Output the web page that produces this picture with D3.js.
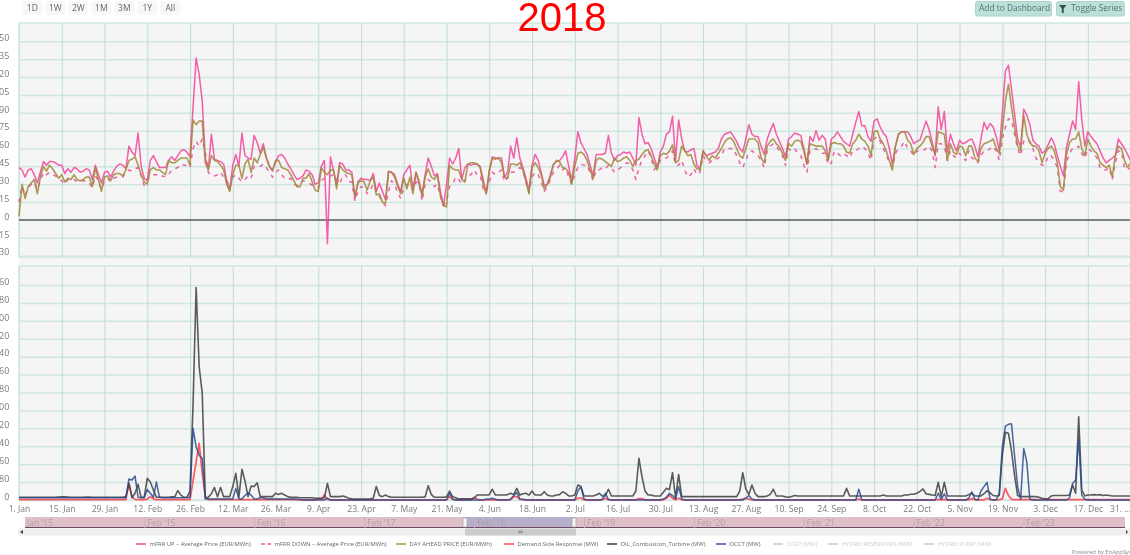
<!DOCTYPE html>
<html><head><meta charset="utf-8">
<script src="https://cdn.jsdelivr.net/npm/d3@7/dist/d3.min.js"></script>
<style>
html,body{margin:0;padding:0;background:#fff;overflow:hidden}
svg{display:block;filter:blur(0.45px);font-family:"Open Sans",sans-serif}
</style></head><body><div id="c"></div>
<script>
// Daily values, 1 Jan 2018 .. 31 Dec 2018
const mfrrUp = [
44,42,36,42,43,38,31,40,49,46, 49,49,48,46,46,39,43,40,44,43,
40,41,43,42,34,46,38,31,40,41, 36,41,45,47,46,43,62,57,54,73,
45,35,33,50,54,49,44,44,44,50, 53,50,54,58,59,57,53,95,136,122,
100,52,43,72,51,50,49,47,33,25, 46,55,45,73,54,52,51,71,65,56,
64,52,45,42,48,54,55,52,47,43, 38,34,35,37,42,41,38,30,31,45,
50,-20,53,41,30,48,47,42,42,40, 18,32,35,34,34,33,39,24,31,24,
17,41,40,38,30,24,38,42,46,26, 40,30,22,38,52,45,37,39,24,12,
30,52,47,52,60,34,44,47,46,47, 47,45,34,22,40,53,52,52,52,36,
40,62,52,69,52,44,35,25,46,55, 50,40,29,30,38,47,49,50,53,58,
45,33,52,74,65,60,55,46,37,55, 55,55,56,71,56,50,54,55,57,56,
57,52,46,86,72,64,65,60,52,44, 57,62,72,74,87,50,84,68,58,57,
59,60,46,43,58,54,55,56,57,60, 68,72,73,74,70,66,60,57,68,80,
72,70,70,62,55,68,75,81,72,66, 60,53,68,70,73,72,71,60,47,70,
66,75,67,71,68,51,68,70,74,70, 66,64,62,72,82,91,79,79,70,66,
83,85,78,73,70,60,47,62,72,74, 74,74,70,64,66,67,75,83,76,66,
54,95,76,91,57,72,64,58,67,64, 65,67,68,62,53,68,82,76,81,78,
70,58,90,125,130,110,89,68,61,93, 88,80,67,64,62,56,58,63,69,64,
54,45,37,61,72,83,76,116,85,62, 74,70,67,64,58,52,48,50,52,54,
68,64,60,55,50];
const mfrrDown = [
15,28,20,27,30,32,26,33,40,38, 40,38,37,34,33,30,34,33,34,32,
32,33,33,31,27,37,33,26,33,35, 32,35,36,36,36,40,42,41,43,44,
37,29,34,36,38,38,36,37,36,38, 42,43,44,47,46,46,44,60,66,62,
68,57,40,37,37,38,40,36,33,27, 36,38,35,32,34,37,35,45,46,45,
47,44,40,36,40,42,38,35,34,35, 30,29,30,33,32,31,29,28,27,33,
35,36,37,38,35,30,37,38,32,32, 16,24,28,27,22,25,30,24,20,15,
12,24,33,30,23,18,27,30,30,25, 32,30,16,30,34,32,28,30,20,12,
16,28,30,36,34,30,33,37,38,42, 38,38,26,24,32,40,38,40,42,32,
36,40,40,42,44,42,32,23,36,40, 38,32,24,28,34,40,42,46,42,44,
36,30,38,44,47,46,46,40,33,42, 42,44,43,46,44,40,42,44,46,48,
47,42,34,44,50,54,58,52,42,46, 50,52,52,54,58,46,46,50,42,36,
38,43,38,40,54,50,48,50,50,52, 54,60,60,60,60,54,48,44,50,57,
58,56,54,50,44,58,62,64,62,58, 54,46,60,58,60,56,54,46,40,58,
58,60,58,56,56,46,48,58,56,54, 56,54,52,58,58,60,62,60,56,50,
68,70,66,60,55,48,44,56,60,62, 66,60,58,54,58,58,58,60,62,58,
44,64,64,62,50,58,54,52,56,52, 50,58,52,50,48,54,58,58,60,62,
58,50,68,78,85,84,72,60,54,66, 68,66,60,52,48,46,46,54,54,50,
44,24,24,48,56,60,60,62,56,52, 60,58,55,52,44,42,42,44,34,48,
58,58,44,42,44];
const dayAhead = [
3,30,18,28,31,34,22,36,45,41, 46,43,39,35,38,32,35,34,38,34,
33,34,36,36,28,44,34,24,36,37, 33,38,39,39,37,42,50,51,53,46,
38,32,30,42,44,42,42,40,38,50, 48,48,50,52,52,52,46,84,80,83,
83,48,42,54,50,49,46,42,30,24, 38,46,46,35,47,51,40,52,48,55,
61,52,45,41,50,50,44,43,42,38, 33,28,28,35,35,39,32,25,24,44,
40,38,42,42,26,46,42,40,39,38, 20,31,33,32,25,33,36,21,22,15,
14,40,40,36,28,22,35,26,36,22, 40,33,20,36,43,36,34,38,20,12,
11,46,43,42,42,34,32,47,48,48, 47,44,30,22,42,52,51,52,48,36,
35,47,47,46,48,42,32,22,44,48, 44,38,26,30,36,46,50,49,44,43,
40,30,45,56,57,55,50,42,35,50, 52,51,49,47,45,52,49,50,52,53,
50,45,50,51,55,58,59,54,47,42, 54,56,55,58,63,48,50,62,58,54,
55,47,43,42,58,54,50,54,52,56, 60,65,68,69,66,60,54,52,60,68,
68,68,65,52,48,62,66,68,64,61, 56,50,64,62,66,67,66,58,47,64,
63,62,62,62,58,50,64,65,64,64, 62,57,56,64,67,72,68,66,62,54,
74,75,68,64,58,50,42,62,72,74, 74,67,64,55,60,62,65,70,70,62,
55,74,73,72,50,64,57,55,62,61, 54,62,62,52,49,60,64,65,66,68,
60,56,75,100,114,95,78,62,58,88, 72,65,62,62,58,48,56,60,62,58,
48,28,25,55,65,68,68,74,60,54, 68,62,58,56,48,46,44,46,36,54,
62,60,50,44,48];
const demandResponse = [
2,2,2,2,2,2,2,2,2,2, 2,2,2,2,2,2,2,2,2,2,
2,2,2,2,2,2,2,2,2,2, 2,2,2,2,2,2,74,15,3,2,
2,2,4,15,5,2,2,2,2,2, 2,2,2,2,2,2,2,85,170,253,
120,15,2,2,2,2,2,2,2,2, 2,2,2,2,2,2,2,2,2,2,
2,2,2,2,2,2,2,2,2,2, 2,1,1,1,1,1,1,1,7,2,
22,2,1,1,1,1,1,1,1,1, 1,1,1,1,1,1,1,1,1,1,
1,1,1,1,1,1,1,1,1,1, 1,1,1,1,1,1,1,1,1,1,
1,15,3,1,1,1,1,1,1,12, 3,1,1,1,1,1,1,1,1,1,
1,1,15,15,3,1,1,1,1,1, 1,1,1,1,1,1,1,1,1,1,
1,1,1,8,10,1,1,1,1,1, 1,1,8,1,1,1,1,1,1,1,
1,1,1,6,6,1,1,1,1,1, 1,1,8,22,8,1,8,1,1,1,
1,1,1,1,1,1,1,1,1,1, 1,1,1,1,1,1,1,4,8,4,
1,1,1,1,1,1,1,1,1,1, 1,1,1,1,1,1,1,1,1,1,
1,1,1,1,1,1,1,1,1,1, 1,1,1,1,1,4,1,1,1,1,
1,1,1,1,1,1,1,1,1,1, 1,1,1,1,1,1,1,1,1,1,
1,3,1,3,1,1,1,1,1,1, 1,1,6,1,1,1,1,8,2,1,
1,2,5,52,20,3,2,2,2,2, 2,2,2,2,2,2,2,2,2,2,
2,2,2,2,2,2,2,2,2,2, 2,2,2,2,2,2,2,2,2,2,
2,2,2,2,2];
const oilTurbine = [
12,12,12,12,12,12,12,12,12,12, 12,12,12,13,14,14,13,12,12,12,
12,12,13,13,12,12,12,12,12,12, 12,12,12,12,12,15,74,10,30,70,
12,12,97,80,45,12,12,12,12,12, 14,14,42,22,12,12,40,430,949,595,
477,10,12,28,56,15,56,15,15,15, 60,119,12,137,85,15,62,60,77,15,
15,15,15,15,30,25,30,22,15,12, 12,12,10,10,10,10,10,8,8,8,
10,74,15,15,15,15,18,14,8,5, 4,4,4,4,4,5,8,60,20,15,
22,15,12,12,12,12,12,12,12,12, 12,12,12,14,64,25,12,12,12,12,
14,40,15,10,5,5,5,5,5,8, 22,22,22,22,24,48,22,22,22,22,
24,30,24,52,22,28,30,22,40,22, 22,22,37,22,18,18,22,24,37,30,
18,18,22,67,60,18,18,18,18,22, 30,18,18,48,18,18,18,18,18,18,
18,18,40,186,104,40,22,22,18,18, 18,35,52,46,122,8,114,15,15,15,
15,15,15,15,15,15,15,15,15,15, 15,15,15,15,15,15,40,122,50,25,
67,30,15,15,15,18,25,48,18,18, 18,14,12,16,20,18,18,18,18,18,
18,18,18,18,18,18,18,18,18,18, 18,52,18,18,18,18,18,18,18,18,
18,18,18,22,18,18,18,18,18,18, 22,22,26,26,30,38,50,28,25,22,
20,79,15,79,18,18,18,18,18,18, 18,24,30,18,18,18,28,42,32,20,
18,20,200,302,298,220,110,20,15,15, 15,15,15,15,12,8,5,5,18,20,
20,20,20,20,22,67,30,372,44,18, 22,22,24,22,24,20,22,20,18,18,
18,18,18,18,18];
const occt = [
10,10,10,10,10,10,10,10,10,10, 10,10,10,10,10,10,10,10,10,10,
10,10,10,10,10,10,10,10,10,10, 10,10,10,10,10,10,94,89,107,12,
10,10,47,30,12,80,12,10,10,10, 10,10,10,10,10,10,12,320,238,200,
186,5,5,5,5,5,5,5,5,5, 5,52,5,5,20,32,22,5,5,10,
10,5,5,5,5,5,5,5,5,5, 5,5,2,0,0,0,0,0,0,0,
0,8,0,0,0,0,0,0,0,0, 0,0,0,0,0,0,0,0,0,0,
0,0,0,0,0,0,0,0,0,0, 0,0,0,0,0,0,0,0,0,0,
0,30,3,0,0,0,0,0,0,0, 0,0,0,5,3,8,3,0,0,0,
0,5,20,33,5,3,0,0,0,0, 0,0,0,0,0,0,0,0,0,0,
0,0,0,40,60,5,0,0,0,0, 0,3,30,3,0,0,0,0,0,0,
0,0,0,0,0,0,0,0,0,0, 0,5,12,30,20,5,60,5,0,0,
0,0,0,0,0,0,0,0,0,0, 0,0,0,0,0,0,0,0,8,20,
5,0,0,0,0,0,0,0,0,0, 0,0,0,0,0,0,0,0,0,0,
0,0,0,0,0,0,0,0,0,0, 0,0,0,0,0,48,0,0,0,0,
0,0,0,0,0,0,0,0,0,0, 0,0,0,0,0,0,0,0,0,0,
0,30,3,27,0,0,0,0,0,0, 0,8,37,3,0,40,60,79,3,0,
0,30,240,330,338,340,200,60,3,230, 170,3,0,0,0,0,0,0,0,0,
0,0,0,0,10,74,89,275,22,3, 0,0,0,0,0,0,0,0,0,0,
0,0,0,0,0];

const priceTicks = [150,135,120,105,90,75,60,45,30,15,0,-15,-30];
const mwTicks = [960,880,800,720,640,560,480,400,320,240,160,80,0];
const rangeButtons = ["1D","1W","2W","1M","3M","1Y","All"];
const navLabels = ["Feb '15","Feb '16","Feb '17","Feb '18","Feb '19","Feb '20","Feb '21","Feb '22","Feb '23"];
const legendItems = [
 ["mFRR UP – Average Price (EUR/MWh)","#f0559b",false,136],
 ["mFRR DOWN – Average Price (EUR/MWh)","#f0559b",true,261],
 ["DAY AHEAD PRICE (EUR/MWh)","#b09a50",false,396],
 ["Demand Side Response (MW)","#ff5a62",false,504],
 ["OIL_Combustion_Turbine (MW)","#4a4a4a",false,607],
 ["OCCT (MW)","#3f5f9f",false,716],
 ["CCGT (MW)","#cccccc",false,773],
 ["HYDRO RESERVOIRS (MW)","#cccccc",false,828],
 ["HYDRO PUMP (MW)","#cccccc",false,924]];

const W=1130,H=555, L=19, R=1130.6;
const svg=d3.select("#c").append("svg").attr("width",W).attr("height",H);
const start=Date.UTC(2018,0,1);
const dayDate=i=>new Date(start+i*864e5);
const x=d3.scaleUtc().domain([dayDate(0),dayDate(364)]).range([L,R]);
const yP=d3.scaleLinear().domain([-30,150]).range([255.7,41.3]);
const yM=d3.scaleLinear().domain([0,960]).range([500,285]);
const xTicks=d3.range(0,365,14).map(dayDate);
const TXT="#7a7a7a";

// plot backgrounds
svg.append("rect").attr("x",L).attr("y",23).attr("width",W-L).attr("height",477).attr("fill","#f5f5f5");

function grid(yScale,ticks,top,bottom){
  const g=svg.append("g");
  g.call(d3.axisLeft(yScale).tickValues(ticks).tickSize(0).tickFormat(d=>d))
   .attr("transform","translate(14,0)");
  g.select(".domain").remove();
  g.selectAll("text").attr("x",-4.7).attr("y",-3.6)
   .style("font-size","9px").style("font-family","'Open Sans',sans-serif").attr("fill",TXT);
  const h=svg.append("g").attr("transform",`translate(${L},0)`)
    .call(d3.axisLeft(yScale).tickValues(ticks).tickSize(-(W-L)).tickFormat(""));
  h.select(".domain").remove();
  h.selectAll("line").attr("stroke","#cfe7e0").attr("stroke-width",1.5);
  const v=svg.append("g").attr("transform",`translate(0,${bottom})`)
    .call(d3.axisBottom(x).tickValues(xTicks).tickSize(-(bottom-top)).tickFormat(""));
  v.select(".domain").remove();
  v.selectAll("line").attr("stroke","#bfe0d9").attr("stroke-width",1.1);
  svg.append("rect").attr("x",L).attr("y",top).attr("width",W-L+4).attr("height",bottom-top)
    .attr("fill","none").attr("stroke","#cfe7e0").attr("stroke-width",1.5);
}
grid(yP,priceTicks,23,257);
grid(yM,mwTicks,266,500);

// x labels
const xa=svg.append("g").attr("transform","translate(0,500)")
  .call(d3.axisBottom(x).tickValues(xTicks).tickSize(0).tickFormat((d,i)=>i===xTicks.length-1?"31. ...":d3.utcFormat("%-d. %b")(d)));
xa.select(".domain").remove();
xa.selectAll("text").attr("y",6).style("font-size","8.6px").style("font-family","'Open Sans',sans-serif").attr("fill",TXT);
xa.selectAll("g.tick:last-of-type text").attr("text-anchor","end");

// zero line
svg.append("line").attr("x1",L).attr("x2",W).attr("y1",yP(0)).attr("y2",yP(0)).attr("stroke","#1c1c1c").attr("stroke-width",1);

function draw(vals,y,color,width,dash){
  const line=d3.line().x((d,i)=>x(dayDate(i))).y(d=>y(d));
  svg.append("path").datum(vals).attr("d",line).attr("fill","none").attr("stroke",color)
   .attr("stroke-width",width).attr("stroke-opacity",0.85).attr("stroke-linejoin","round")
   .attr("stroke-dasharray",dash||null);
}
draw(mfrrUp,yP,"#f2439a",1.5);
draw(mfrrDown,yP,"#f2439a",1.5,"4,5");
draw(dayAhead,yP,"#a08838",1.6);
draw(demandResponse,yM,"#ff3d48",1.7);
draw(oilTurbine,yM,"#3f3f3f",1.6);
draw(occt,yM,"#2b4a8c",1.5);

// title
svg.append("text").attr("x",562).attr("y",31).attr("text-anchor","middle")
 .style("font-family","'Liberation Sans',Arial,sans-serif").style("font-size","40px").attr("fill","#ff0000").text("2018");

// range selector
const bx=d3.scaleLinear().domain([0,6]).range([22.3,160.3]);
const rb=svg.selectAll("g.rb").data(rangeButtons).join("g").attr("transform",(d,i)=>`translate(${bx(i)},1)`);
rb.append("rect").attr("width",20).attr("height",14).attr("rx",2).attr("fill","#f7f7f7");
rb.append("text").attr("x",10).attr("y",10).attr("text-anchor","middle").style("font-size","8.5px").attr("fill","#666").text(d=>d);

// top right buttons
function btn(x0,w,label,tx){
  svg.append("rect").attr("x",x0).attr("y",1.5).attr("width",w).attr("height",14.5).attr("rx",2)
   .attr("fill","#bcdfd8").attr("stroke","#a9d6cd");
  svg.append("text").attr("x",tx).attr("y",11.3).style("font-size","8.4px").attr("fill","#55707a").text(label);
}
btn(975.5,76,"Add to Dashboard",979);
btn(1056.5,68,"Toggle Series",1071);
svg.append("path").attr("d","M1059 5h7.5l-2.8 3.6v5l-1.9-1v-4z").attr("fill","#3a4a50");

// navigator
svg.append("rect").attr("x",25).attr("y",517).attr("width",1100).attr("height",11).attr("fill","#dfc0c6");
svg.append("rect").attr("x",465).attr("y",517).attr("width",109).attr("height",11).attr("fill","#b7aecb");
svg.append("line").attr("x1",25).attr("x2",1125).attr("y1",527.5).attr("y2",527.5).attr("stroke","#6a4a60").attr("stroke-width",1);
const nx=d3.scaleLinear().domain([0,8]).range([145,1024]);
svg.append("text").attr("x",27).attr("y",526).style("font-size","8.5px").attr("fill","#b0a0a4").text("Jan '15");
const nav=svg.selectAll("g.nl").data(navLabels).join("g").attr("transform",(d,i)=>`translate(${nx(i)},0)`);
nav.append("line").attr("y1",517).attr("y2",528).attr("stroke","#ccb0b6");
nav.append("text").attr("x",2.5).attr("y",526).style("font-size","8.5px").attr("fill","#b0a0a4").text(d=>d);
[465,574].forEach(h=>{
  svg.append("rect").attr("x",h-2).attr("y",518).attr("width",4).attr("height",9).attr("fill","#f3f3f3").attr("stroke","#999").attr("stroke-width",.6);
});
// scrollbar
svg.append("rect").attr("x",18).attr("y",528.5).attr("width",W-18).attr("height",7).attr("fill","#eeeeee");
svg.append("rect").attr("x",465).attr("y",528.5).attr("width",111).attr("height",7).attr("fill","#cbcbcb");
svg.append("path").attr("d","M20 532l3-2v4z").attr("fill","#444");
svg.append("path").attr("d","M1128 532l-2-2v4z").attr("fill","#444");
svg.append("path").attr("d","M518 531h5M518 532.5h5").attr("stroke","#777").attr("stroke-width",.7);

// legend
const lg=svg.selectAll("g.lg").data(legendItems).join("g").attr("transform",d=>`translate(${d[3]},544)`);
lg.append("line").attr("x1",0).attr("x2",10).attr("stroke",d=>d[1]).attr("stroke-width",1.6).attr("stroke-dasharray",d=>d[2]?"4,2.5":null);
lg.append("text").attr("x",13.5).attr("y",2).style("font-size","5.9px").attr("fill",d=>d[1]==="#cccccc"?"#cccccc":"#666").text(d=>d[0]);
svg.append("text").attr("x",1072).attr("y",553.5).style("font-size","5.8px").attr("fill","#888").text("Powered by EnAppSys");
</script></body></html>
